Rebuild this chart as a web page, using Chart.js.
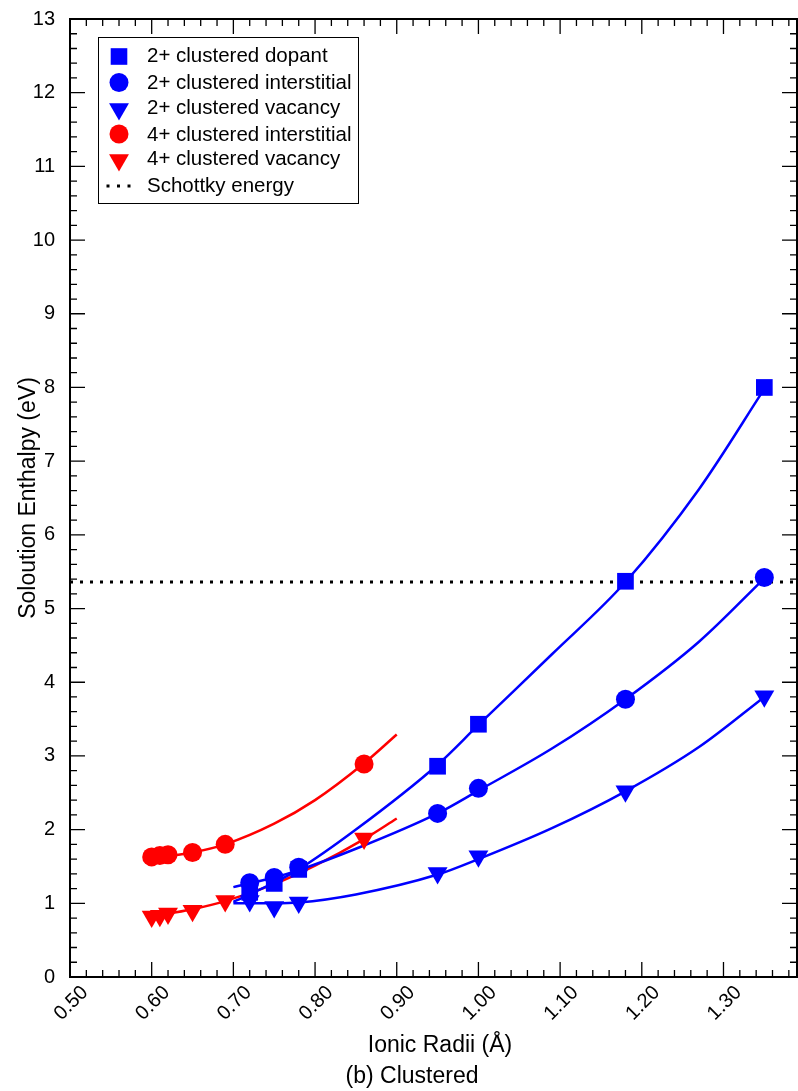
<!DOCTYPE html>
<html>
<head>
<meta charset="utf-8">
<script src="https://cdn.jsdelivr.net/npm/chart.js@4.4.1/dist/chart.umd.min.js"></script>
<style>
  html, body { margin: 0; padding: 0; background: #fff; }
  #wrap { width: 798px; height: 1091px; }
</style>
</head>
<body>
<div id="wrap"><canvas id="chart" width="798" height="1091"></canvas></div>
<script>
// Ionic radii (Å) of the dopants
const blueX = [0.72, 0.75, 0.78, 0.95, 1.00, 1.18, 1.35];
const redX = [0.60, 0.61, 0.62, 0.65, 0.69, 0.86];

// Solution enthalpies (eV)
const dopant2 = [1.15, 1.27, 1.46, 2.86, 3.43, 5.37, 8.00];
const interstitial2 = [1.28, 1.35, 1.49, 2.22, 2.56, 3.77, 5.42];
const vacancy2 = [1.03, 0.95, 1.01, 1.41, 1.64, 2.52, 3.81];
const interstitial4 = [1.63, 1.65, 1.66, 1.69, 1.80, 2.89];
const vacancy4 = [0.82, 0.83, 0.86, 0.90, 1.03, 1.88];

// fitted curves, sampled off the figure
const blueFitX = [0.70, 0.75, 0.78, 0.85, 0.95, 1.00, 1.09, 1.18, 1.27, 1.35];
const dopant2Fit = [1.02, 1.28, 1.46, 2.00, 2.88, 3.42, 4.38, 5.36, 6.62, 7.98];
const interstitial2Fit = [1.22, 1.35, 1.45, 1.74, 2.22, 2.53, 3.10, 3.77, 4.55, 5.41];
const vacancy2Fit = [1.00, 1.00, 1.01, 1.12, 1.39, 1.60, 2.02, 2.52, 3.12, 3.80];
const redFitX = [0.60, 0.62, 0.65, 0.69, 0.75, 0.80, 0.86, 0.90];
const interstitial4Fit = [1.62, 1.64, 1.69, 1.80, 2.08, 2.40, 2.90, 3.29];
const vacancy4Fit = [0.82, 0.86, 0.92, 1.03, 1.26, 1.51, 1.87, 2.15];

const schottkyEnergy = 5.36;
const xRange = [0.50, 1.39];
const yRange = [0, 13];

const seriesLabels = [
    '2+ clustered dopant',
    '2+ clustered interstitial',
    '2+ clustered vacancy',
    '4+ clustered interstitial',
    '4+ clustered vacancy',
    'Schottky energy'
];

const BLUE = '#0000ff';
const RED = '#ff0000';
const FONT = "'Liberation Sans', Arial, Helvetica, sans-serif";

function pts(xs, ys) {
    return xs.map((x, i) => ({ x: x, y: ys[i] }));
}

function markers(label, xs, ys, color, style, radius, rotation) {
    return {
        label: label,
        data: pts(xs, ys),
        showLine: false,
        pointStyle: style,
        pointRadius: radius,
        pointRotation: rotation || 0,
        pointBackgroundColor: color,
        pointBorderColor: color,
        pointBorderWidth: 0,
        order: 0
    };
}

function fit(xs, ys, color) {
    return {
        label: '',
        data: pts(xs, ys),
        borderColor: color,
        borderWidth: 2.5,
        pointRadius: 0,
        cubicInterpolationMode: 'monotone',
        order: 1
    };
}

// ticks on all four sides, pointing inward, plus the box
const frameTicks = {
    id: 'frameTicks',
    beforeDatasetsDraw(chart) {
        const { ctx, chartArea: a, scales: { x, y } } = chart;
        ctx.save();
        ctx.strokeStyle = '#000';
        ctx.lineWidth = 1.3;
        ctx.beginPath();
        for (let i = 0; ; i++) {
            const v = xRange[0] + i * 0.02;
            if (v > xRange[1] + 1e-9) break;
            const px = x.getPixelForValue(v);
            const len = i % 5 === 0 ? 15 : 7;
            ctx.moveTo(px, a.bottom);
            ctx.lineTo(px, a.bottom - len);
            ctx.moveTo(px, a.top);
            ctx.lineTo(px, a.top + len);
        }
        for (let i = 0; ; i++) {
            const v = yRange[0] + i * 0.2;
            if (v > yRange[1] + 1e-9) break;
            const py = y.getPixelForValue(v);
            const len = i % 5 === 0 ? 15 : 7;
            ctx.moveTo(a.left, py);
            ctx.lineTo(a.left + len, py);
            ctx.moveTo(a.right, py);
            ctx.lineTo(a.right - len, py);
        }
        ctx.stroke();
        ctx.lineWidth = 2;
        ctx.strokeRect(a.left, a.top, a.right - a.left, a.bottom - a.top);
        ctx.restore();
    },
    afterDraw(chart) {
        const { ctx, chartArea: a } = chart;
        ctx.save();
        ctx.fillStyle = '#000';
        ctx.font = '23px ' + FONT;
        ctx.textAlign = 'center';
        ctx.textBaseline = 'alphabetic';
        ctx.fillText('Ionic Radii (\u00c5)', 440, 1052);
        ctx.fillText('(b) Clustered', 412, 1083);
        ctx.translate(35, (a.top + a.bottom) / 2);
        ctx.rotate(-Math.PI / 2);
        ctx.fillText('Soloution Enthalpy (eV)', 0, 0);
        ctx.restore();
        drawLegend(ctx);
    }
};

function drawLegend(ctx) {
    const box = { x: 98.5, y: 37.5, w: 260, h: 166 };
    const rowsY = [55, 82.5, 107, 134, 158, 185];
    const mx = 119;
    ctx.save();
    ctx.fillStyle = '#fff';
    ctx.fillRect(box.x, box.y, box.w, box.h);
    ctx.strokeStyle = '#000';
    ctx.lineWidth = 1;
    ctx.strokeRect(box.x, box.y, box.w, box.h);

    // markers
    ctx.fillStyle = BLUE;
    ctx.fillRect(mx - 8.3, rowsY[0] + 1.5 - 8.3, 16.6, 16.6);
    ctx.beginPath();
    ctx.arc(mx, rowsY[1], 9.5, 0, Math.PI * 2);
    ctx.fill();
    downTriangle(ctx, mx, rowsY[2] + 2, 11.5);
    ctx.fillStyle = RED;
    ctx.beginPath();
    ctx.arc(mx, rowsY[3], 9.5, 0, Math.PI * 2);
    ctx.fill();
    downTriangle(ctx, mx, rowsY[4] + 2, 11.5);
    ctx.fillStyle = '#000';
    [108, 118.5, 129].forEach(dx => ctx.fillRect(dx - 1.5, rowsY[5] - 0.5, 3, 3));

    // labels
    ctx.fillStyle = '#000';
    ctx.font = '20.5px ' + FONT;
    ctx.textAlign = 'left';
    ctx.textBaseline = 'middle';
    seriesLabels.forEach((t, i) => ctx.fillText(t, 147, rowsY[i] + 1));
    ctx.restore();
}

function downTriangle(ctx, cx, cy, r) {
    ctx.beginPath();
    for (let k = 0; k < 3; k++) {
        const ang = Math.PI + k * 2 * Math.PI / 3;
        const px = cx + Math.sin(ang) * r;
        const py = cy - Math.cos(ang) * r;
        if (k === 0) ctx.moveTo(px, py); else ctx.lineTo(px, py);
    }
    ctx.closePath();
    ctx.fill();
}

const ctx = document.getElementById('chart').getContext('2d');
const chart = new Chart(ctx, {
    type: 'line',
    data: {
        datasets: [
            markers(seriesLabels[0], blueX, dopant2, BLUE, 'rect', 11.8),
            markers(seriesLabels[1], blueX, interstitial2, BLUE, 'circle', 9.5),
            markers(seriesLabels[2], blueX, vacancy2, BLUE, 'triangle', 11.5, 180),
            markers(seriesLabels[3], redX, interstitial4, RED, 'circle', 9.5),
            markers(seriesLabels[4], redX, vacancy4, RED, 'triangle', 11.5, 180),
            fit(blueFitX, dopant2Fit, BLUE),
            fit(blueFitX, interstitial2Fit, BLUE),
            fit(blueFitX, vacancy2Fit, BLUE),
            fit(redFitX, interstitial4Fit, RED),
            fit(redFitX, vacancy4Fit, RED),
            {
                label: seriesLabels[5],
                data: pts(xRange, [schottkyEnergy, schottkyEnergy]),
                borderColor: '#000',
                borderWidth: 3,
                borderDash: [3, 7],
                borderCapStyle: 'butt',
                pointRadius: 0,
                order: 2
            }
        ]
    },
    options: {
        responsive: false,
        animation: false,
        devicePixelRatio: 1,
        // big markers would otherwise pull the right edge in
        layout: { autoPadding: false, padding: { top: 18, right: 1, left: 0, bottom: 0 } },
        plugins: {
            legend: { display: false },
            tooltip: { enabled: false },
            title: { display: false }
        },
        scales: {
            x: {
                type: 'linear',
                min: xRange[0],
                max: xRange[1],
                grid: { display: false },
                border: { display: false },
                ticks: {
                    stepSize: 0.1,
                    includeBounds: false,
                    maxRotation: 45,
                    minRotation: 45,
                    labelOffset: 15,
                    padding: -4,
                    color: '#000',
                    font: { family: FONT, size: 20 },
                    callback: v => Number(v).toFixed(2)
                },
                afterFit(scale) {
                    scale.height = 114;
                    scale.paddingLeft = 0;
                    scale.paddingRight = 0;
                }
            },
            y: {
                type: 'linear',
                min: yRange[0],
                max: yRange[1],
                grid: { display: false },
                border: { display: false },
                ticks: {
                    stepSize: 1,
                    padding: 7,
                    color: '#000',
                    font: { family: FONT, size: 20 }
                },
                afterFit(scale) { scale.width = 70; }
            }
        }
    },
    plugins: [frameTicks]
});
</script>
</body>
</html>
